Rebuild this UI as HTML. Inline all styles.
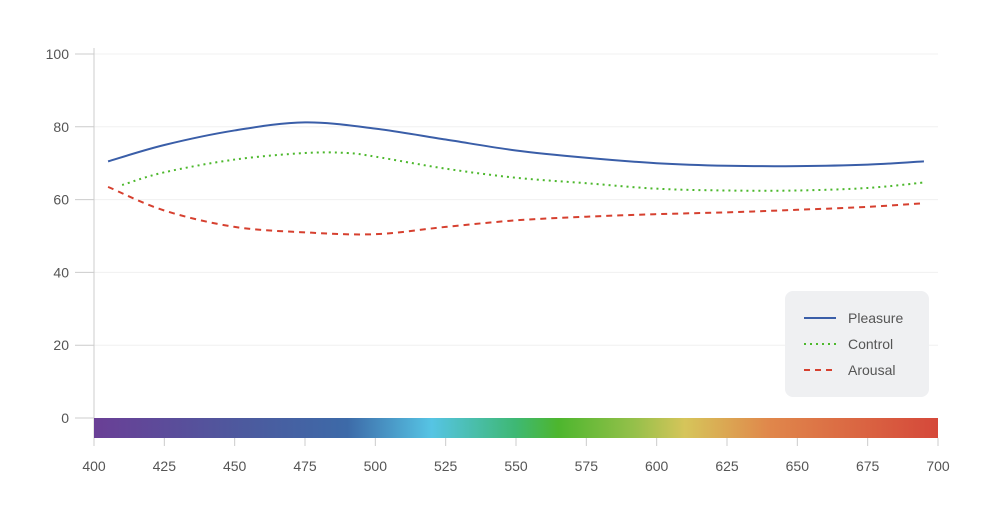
<!DOCTYPE html>
<html><head><meta charset="utf-8"><style>
body{margin:0;background:#fff;}
svg text{font-family:"Liberation Sans",sans-serif;fill:#555;font-size:14px;}
</style></head><body>
<svg id="c" width="1000" height="523">
<defs>
<linearGradient id="spec" x1="0" x2="1" y1="0" y2="0">
<stop offset="0" stop-color="#6a3f96"/>
<stop offset="0.18" stop-color="#4c5a9e"/>
<stop offset="0.3" stop-color="#3d6aa8"/>
<stop offset="0.4" stop-color="#56c4e4"/>
<stop offset="0.5" stop-color="#3eb873"/>
<stop offset="0.55" stop-color="#4db62e"/>
<stop offset="0.64" stop-color="#95c04a"/>
<stop offset="0.7" stop-color="#d6c55a"/>
<stop offset="0.8" stop-color="#e0874b"/>
<stop offset="1" stop-color="#d5483a"/>
</linearGradient>
</defs>
<g id="grid"></g>
<g id="axes"></g>
<rect x="94" y="418" width="844" height="20" fill="url(#spec)"/>
<g id="series"></g>
<g>
<rect x="785" y="291" width="144" height="106" rx="8" fill="#eff0f2"/>
<g><line x1="804" x2="836" y1="318" y2="318" stroke="#3a5ea8" stroke-width="2"/><text x="848" y="323">Pleasure</text></g>
<g><line x1="804" x2="836" y1="344" y2="344" stroke="#4cb82c" stroke-width="2" stroke-dasharray="2,4"/><text x="848" y="349">Control</text></g>
<g><line x1="804" x2="836" y1="370" y2="370" stroke="#d6402f" stroke-width="2" stroke-dasharray="6,5"/><text x="848" y="375">Arousal</text></g>
</g>
</svg>
<script>
const xTicks=[400,425,450,475,500,525,550,575,600,625,650,675,700];
const yTicks=[0,20,40,60,80,100];
const pleasureX=[405,425,450,475,500,525,550,575,600,625,650,675,695];
const pleasureY=[70.5,75,79,81.2,79.5,76.5,73.5,71.5,70,69.3,69.2,69.6,70.5];
const controlX=[410,425,450,475,490,500,525,550,575,600,625,650,675,695];
const controlY=[64,67.5,71,72.8,72.8,71.8,68.5,66,64.5,63,62.5,62.5,63.2,64.7];
const arousalX=[405,425,450,475,500,525,550,575,600,625,650,675,695];
const arousalY=[63.5,57,52.5,51,50.5,52.5,54.3,55.3,56,56.5,57.2,58,59];
const NS="http://www.w3.org/2000/svg";
const sx=v=>94+(v-400)*844/300;
const sy=v=>418-v*3.64;
function mk(t,a,p){const e=document.createElementNS(NS,t);for(const k in a)e.setAttribute(k,a[k]);p.appendChild(e);return e;}
const grid=document.getElementById('grid'),axes=document.getElementById('axes'),ser=document.getElementById('series');
yTicks.forEach(v=>{
 if(v>0){const g=mk('line',{x1:94,x2:938,y1:sy(v),y2:sy(v),stroke:'#f0f0f0'},grid);
 
 }
 const t=mk('line',{x1:75,x2:94,y1:sy(v),y2:sy(v),stroke:'#ccc'},axes);
 
 
 const l=mk('text',{x:69,y:sy(v)+5,'text-anchor':'end'},axes);l.textContent=v;
 
 
});
const ya=mk('line',{x1:94,x2:94,y1:48,y2:446,stroke:'#ccc'},axes);


xTicks.forEach(v=>{
 const t=mk('line',{x1:sx(v),x2:sx(v),y1:438,y2:446,stroke:'#ccc'},axes);
 
 
 const l=mk('text',{x:sx(v),y:471,'text-anchor':'middle'},axes);l.textContent=v;
 
 
});
function path(xs,ys){
 const p=xs.map((x,i)=>[sx(x),sy(ys[i])]);
 let d='M'+p[0][0]+','+p[0][1];
 for(let i=0;i<p.length-1;i++){
  const p0=p[i-1]||p[i],p1=p[i],p2=p[i+1],p3=p[i+2]||p2;
  const c1=[p1[0]+(p2[0]-p0[0])/6,p1[1]+(p2[1]-p0[1])/6];
  const c2=[p2[0]-(p3[0]-p1[0])/6,p2[1]-(p3[1]-p1[1])/6];
  d+=' C'+c1+' '+c2+' '+p2;
 }
 return d;
}
const a=mk('path',{d:path(arousalX,arousalY),fill:'none',stroke:'#d6402f','stroke-width':2,'stroke-dasharray':'6,5'},ser);


const c=mk('path',{d:path(controlX,controlY),fill:'none',stroke:'#4cb82c','stroke-width':2,'stroke-dasharray':'2,4'},ser);


const p=mk('path',{d:path(pleasureX,pleasureY),fill:'none',stroke:'#3a5ea8','stroke-width':2},ser);


</script>
</body></html>
